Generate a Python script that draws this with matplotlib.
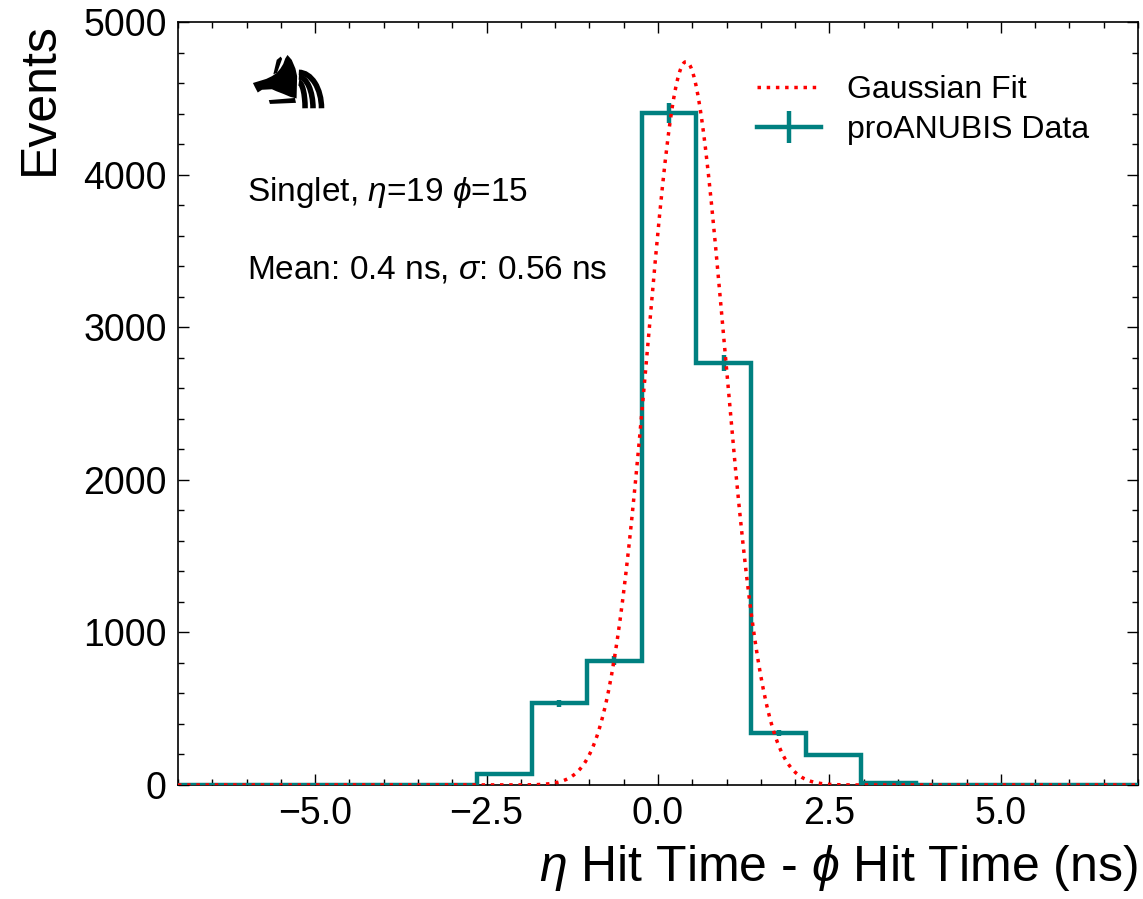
import numpy as np
import matplotlib

matplotlib.use("Agg")
import matplotlib.pyplot as plt
from matplotlib.patches import Polygon, Arc
from matplotlib.ticker import MultipleLocator, FuncFormatter

# Histogram (eta hit time - phi hit time), ns
bin_edges = [-7.5, -2.64, -1.84, -1.04, -0.24, 0.56, 1.36, 2.16, 2.96, 3.76, 7.5]
counts = [0, 75, 536, 815, 4404, 2765, 339, 197, 12, 0]

# Gaussian fit
fit_amp = 4740.0
fit_mean = 0.41
fit_sigma = 0.56

info_lines = ["Singlet, $\\eta$=19 $\\phi$=15", "Mean: 0.4 ns, $\\sigma$: 0.56 ns"]

TEAL = "#008080"

plt.rcParams.update({
    "font.family": ["Liberation Sans", "DejaVu Sans"],
    "mathtext.fontset": "custom",
    "mathtext.rm": "Liberation Sans",
    "mathtext.it": "Liberation Sans:italic",
    "xtick.direction": "in",
    "ytick.direction": "in",
    "xtick.top": True,
    "ytick.right": True,
    "xtick.minor.visible": True,
    "ytick.minor.visible": True,
})

fig = plt.figure(figsize=(11.43, 8.99), dpi=100)
ax = fig.add_axes([0.1557, 0.1268, 0.8399, 0.8487])

edges = np.asarray(bin_edges)
vals = np.asarray(counts, dtype=float)
centers = 0.5 * (edges[:-1] + edges[1:])

ax.stairs(vals, edges, color=TEAL, lw=3.2, zorder=3)
mask = vals > 0
ax.errorbar(centers[mask], vals[mask], yerr=np.sqrt(vals[mask]), fmt="none",
            ecolor=TEAL, elinewidth=3.2, zorder=3)

xs = np.linspace(-7, 7, 1000)
gauss = fit_amp * np.exp(-0.5 * ((xs - fit_mean) / fit_sigma) ** 2)
g_line, = ax.plot(xs, gauss, color="red", ls=":", lw=2.5, zorder=4, label="Gaussian Fit")

# legend proxy: line with vertical error bar
proxy = ax.errorbar([np.nan], [np.nan], yerr=[1.0], color=TEAL, lw=3.2,
                    label="proANUBIS Data")

ax.legend(handles=[g_line, proxy], loc="upper right", frameon=False,
          fontsize=23, bbox_to_anchor=(0.979, 0.968), handlelength=2.0,
          labelspacing=0.3, handletextpad=0.8)

ax.set_xlim(-7, 7)
ax.set_ylim(0, 5000)
ax.xaxis.set_major_locator(MultipleLocator(2.5))
ax.xaxis.set_minor_locator(MultipleLocator(0.5))
ax.xaxis.set_major_formatter(FuncFormatter(lambda v, p: f"{v:.1f}".replace("-", "\u2212")))
ax.yaxis.set_major_locator(MultipleLocator(1000))
ax.yaxis.set_minor_locator(MultipleLocator(200))
ax.tick_params(which="major", length=8, width=1, labelsize=27, pad=8)
ax.tick_params(which="minor", length=4, width=1)
for s in ax.spines.values():
    s.set_linewidth(1.2)

ax.set_xlabel("$\\eta$ Hit Time - $\\phi$ Hit Time (ns)", fontsize=36, loc="right", labelpad=8)
ax.set_ylabel("Events", fontsize=36, loc="top", labelpad=15)

ax.text(0.072, 0.776, info_lines[0], transform=ax.transAxes, fontsize=24, va="center")
ax.text(0.072, 0.675, info_lines[1], transform=ax.transAxes, fontsize=24, va="center")

# rough logo (Anubis head + signal arcs)
lax = fig.add_axes([245 / 1143, 1 - 111 / 899, 85 / 1143, 62 / 899])
lax.set_xlim(0, 300)
lax.set_ylim(228, 0)
lax.axis("off")
head = [(150, 22), (165, 40), (178, 72), (184, 100), (182, 182), (160, 176),
        (135, 165), (110, 155), (95, 148), (60, 150), (45, 160),
        (35, 140), (28, 125), (75, 110), (95, 100), (112, 88), (125, 72),
        (135, 55), (142, 35)]
lax.add_patch(Polygon(head, closed=True, color="black", lw=0))
lax.add_patch(Polygon([(112, 40), (126, 28), (131, 36), (113, 88), (100, 93)],
                      closed=True, color="black", lw=0))
lax.add_patch(Polygon([(84, 188), (176, 180), (180, 198), (88, 202)],
                      closed=True, color="black", lw=0))
for rx, ry in [(22, 95), (50, 115), (80, 132)]:
    lax.add_patch(Arc((190, 218), 2 * rx, 2 * ry, theta1=270, theta2=360,
                      lw=4, color="black"))

fig.savefig("out.png", dpi=100)
